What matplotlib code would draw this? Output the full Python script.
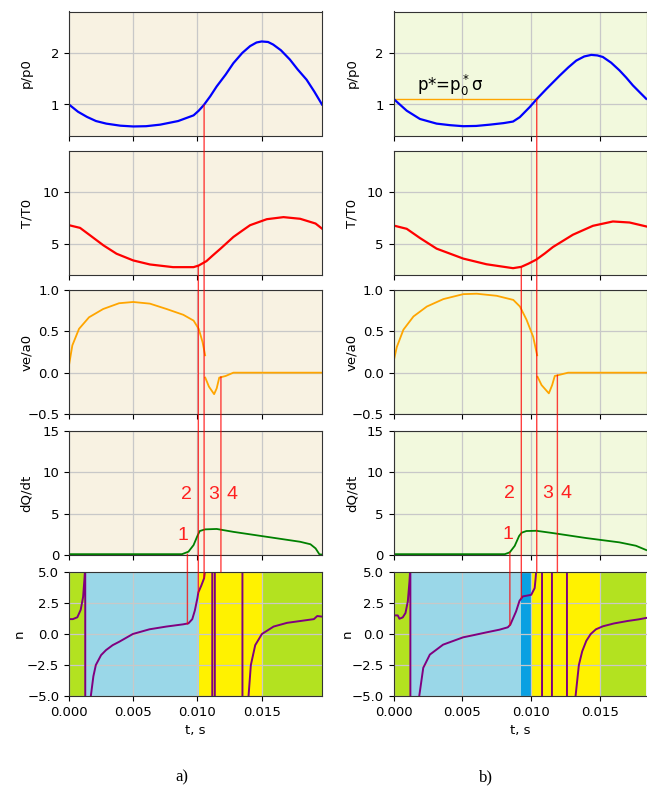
import numpy as np
import matplotlib
matplotlib.use("Agg")
import matplotlib.pyplot as plt
from matplotlib.patches import ConnectionPatch

# ---------------- data, case a) ----------------
t_p_a = [0, 0.0007, 0.0014, 0.0021, 0.0029, 0.0040, 0.0050, 0.0060, 0.0071, 0.0085, 0.0097,
         0.0101, 0.0105, 0.0110, 0.0115, 0.0122, 0.0128, 0.0135, 0.0141, 0.0146, 0.0150,
         0.0155, 0.0159, 0.0165, 0.0172, 0.0178, 0.0185, 0.0191, 0.0197]
p_a = [1.0, 0.86, 0.76, 0.68, 0.63, 0.59, 0.575, 0.58, 0.61, 0.68, 0.79,
       0.88, 0.99, 1.16, 1.35, 1.58, 1.80, 2.00, 2.13, 2.20, 2.22,
       2.21, 2.16, 2.05, 1.87, 1.68, 1.48, 1.25, 1.0]

t_T_a = [0, 0.00086, 0.00164, 0.00268, 0.0037, 0.0050, 0.0063, 0.0081, 0.0097, 0.0101,
         0.0107, 0.0112, 0.0118, 0.0128, 0.0135, 0.0141, 0.0154, 0.0167, 0.0180, 0.0192, 0.0197]
T_a = [6.82, 6.56, 5.84, 4.87, 4.06, 3.41, 3.02, 2.76, 2.76, 2.92,
       3.34, 3.90, 4.55, 5.68, 6.30, 6.82, 7.40, 7.60, 7.44, 6.98, 6.49]

t_ve_a = [0, 0.00026, 0.00078, 0.00156, 0.00266, 0.0039, 0.0050, 0.0063, 0.0076, 0.0089,
          0.0097, 0.0101, 0.0104, 0.0106, np.nan, 0.01061, 0.0109, 0.0113, 0.0115, 0.0117,
          0.0122, 0.0128, 0.0197]
ve_a = [0.09, 0.33, 0.53, 0.67, 0.77, 0.84, 0.855, 0.835, 0.77, 0.70,
        0.63, 0.53, 0.37, 0.21, np.nan, -0.06, -0.17, -0.26, -0.19, -0.06,
        -0.04, 0.0, 0.0]

t_dq_a = [0, 0.0088, 0.0093, 0.0097, 0.00997, 0.01018, 0.0106, 0.0115, 0.0128, 0.0154,
          0.0180, 0.0188, 0.0192, 0.0195, 0.0197]
dq_a = [0.1, 0.1, 0.4, 1.2, 2.2, 2.9, 3.1, 3.15, 2.8, 2.2,
        1.6, 1.3, 0.8, 0.08, 0.05]

t_n_a = [0, 0.0003, 0.00065, 0.00091, 0.0011, 0.0012, 0.00125, 0.00126, 0.00127,
         0.0015, 0.0017, 0.0019, 0.00209, 0.0025, 0.00288, 0.0034, 0.00392, 0.00497,
         0.00627, 0.00758, 0.00889, 0.0093, 0.0096, 0.0098, 0.0100, 0.01007, 0.0103,
         0.01052, 0.0106, 0.0108, 0.01115, 0.01116, 0.01135, 0.01136, 0.0135, 0.01351,
         0.0138, 0.01398, 0.01416, 0.0145, 0.01502, 0.01593, 0.01698, 0.01803,
         0.01907, 0.01933, 0.01972]
n_a = [1.2, 1.2, 1.35, 1.95, 3.0, 4.4, 5.2, 40, -40,
       -12, -5.0, -3.4, -2.5, -1.7, -1.3, -0.9, -0.62, 0.0,
       0.38, 0.6, 0.78, 0.86, 1.2, 1.9, 2.9, 3.35, 3.9,
       4.5, 5.2, 40, 40, -40, -40, 40, 40, -40,
       -12, -5.0, -2.5, -0.9, 0.0, 0.6, 0.9, 1.05,
       1.2, 1.45, 1.4]

zones_a = [0, 0.00135, 0.0101, 0.0150, 0.0197]
zone_kind_a = ["gas", "comp", "burn", "gas"]

mark_t_a = [0.00922, 0.01007, 0.01052, 0.01183]
mark_panel_a = [3, 1, 0, 2]
mark_top_a = [0.1, 2.9, 0.99, -0.05]
mark_n_a = [0.8, 3.35, 4.5, 5.0]
lab_t_a = [0.00888, 0.00914, 0.01127, 0.01271]
lab_v_a = [2.4, 7.3, 7.3, 7.3]

# ---------------- data, case b) ----------------
t_p_b = [0, 0.00096, 0.00192, 0.00313, 0.0041, 0.00506, 0.0060, 0.0070, 0.0080, 0.00868,
         0.00917, 0.00989, 0.01042, 0.0111, 0.01207, 0.0127, 0.01327, 0.01385, 0.01436,
         0.0148, 0.0152, 0.0158, 0.01641, 0.0169, 0.01738, 0.01790, 0.01835]
p_b = [1.11, 0.88, 0.72, 0.63, 0.60, 0.58, 0.585, 0.61, 0.64, 0.67,
       0.755, 0.95, 1.11, 1.30, 1.56, 1.72, 1.85, 1.93, 1.96,
       1.95, 1.92, 1.81, 1.66, 1.52, 1.37, 1.23, 1.11]

t_T_b = [0, 0.00096, 0.00192, 0.00313, 0.00506, 0.00675, 0.00868, 0.00928, 0.00980, 0.01037,
         0.0110, 0.01158, 0.01303, 0.01448, 0.01593, 0.01714, 0.01835]
T_b = [6.79, 6.47, 5.58, 4.55, 3.59, 3.04, 2.66, 2.79, 3.10, 3.49,
       4.10, 4.71, 5.90, 6.76, 7.18, 7.08, 6.70]

t_ve_b = [0, 0.00024, 0.00072, 0.00145, 0.00242, 0.00362, 0.00507, 0.00604, 0.00749, 0.0087,
          0.00918, 0.00966, 0.01014, 0.01043, np.nan, 0.01046, 0.01075, 0.01128, 0.01152,
          0.01171, 0.01196, 0.01268, 0.01835]
ve_b = [0.13, 0.31, 0.52, 0.68, 0.80, 0.89, 0.95, 0.955, 0.93, 0.88,
        0.80, 0.64, 0.435, 0.21, np.nan, -0.05, -0.15, -0.25, -0.15,
        -0.04, -0.03, 0.0, 0.0]

t_dq_b = [0, 0.00808, 0.00844, 0.0088, 0.00912, 0.00931, 0.00965, 0.01037, 0.01158,
          0.01399, 0.0164, 0.0176, 0.01835]
dq_b = [0.1, 0.1, 0.32, 1.1, 2.3, 2.7, 2.9, 2.93, 2.65,
        2.05, 1.53, 1.12, 0.6]

t_n_b = [0, 0.00031, 0.00043, 0.00067, 0.00087, 0.00104, 0.00116, 0.00121, 0.00122, 0.00123,
         0.0016, 0.00187, 0.00216, 0.00264, 0.0036, 0.00505, 0.00578, 0.00674, 0.0077,
         0.0083, 0.00848, 0.0089, 0.00915, 0.00939, 0.0100, 0.01025, 0.01032, 0.01037,
         0.0106, 0.01078, 0.01079, 0.0115, 0.01151, 0.01259, 0.0126, 0.0130, 0.01322,
         0.01346, 0.0137, 0.0140, 0.01432, 0.0147, 0.0152, 0.0160, 0.0170, 0.0178, 0.01837]
n_b = [1.5, 1.5, 1.23, 1.34, 1.69, 2.63, 4.25, 5.2, 40, -40,
       -12, -5.0, -2.73, -1.66, -0.86, -0.27, -0.1, 0.13, 0.35,
       0.54, 0.75, 1.82, 2.68, 3.03, 3.16, 3.7, 4.5, 5.2,
       40, 40, -40, -40, 40, 40, -40, -12, -5.0,
       -2.5, -1.4, -0.55, 0.0, 0.38, 0.62, 0.85, 1.05, 1.18, 1.3]

zones_b = [0, 0.00122, 0.00925, 0.0100, 0.0150, 0.01837]
zone_kind_b = ["gas", "comp", "ign", "burn", "gas"]

mark_t_b = [0.00845, 0.00928, 0.01040, 0.01190]
mark_panel_b = [3, 1, 0, 2]
mark_top_b = [0.3, 2.75, 1.1, -0.03]
mark_n_b = [0.7, 2.85, 5.0, 5.0]
lab_t_b = [0.0083, 0.00844, 0.01122, 0.01255]
lab_v_b = [2.5, 7.5, 7.5, 7.5]
lab_txt = ["1", "2", "3", "4"]

pstar_b = 1.1
pstar_end_b = 0.01040

# ---------------- styles ----------------
zone_col = {"gas": "#b3e220", "comp": "#9ad7e8", "ign": "#0aa0e2", "burn": "#fff200"}
plt.rcParams["font.size"] = 9.5

fig = plt.figure(figsize=(6.47, 7.87), dpi=100)
W, H = 647.0, 787.0
rows_top = [11.5, 151, 290, 431, 572]
row_h = 124


def column(x0, xmax, bg, lab_x, n_lab_x, tp, p, tT, T, tve, ve, tdq, dq, tn, n,
           zones, kinds, mt, mp, mtop, mn, lt, lv):
    axs = []
    for r in range(5):
        ax = fig.add_axes([x0 / W, 1 - (rows_top[r] + row_h) / H, 253 / W, row_h / H])
        ax.set_xlim(0, xmax)
        ax.set_xticks([0, 0.005, 0.010, 0.015])
        ax.grid(True, color="#c8c8c8", lw=0.9)
        ax.set_axisbelow(True)
        for s in ax.spines.values():
            s.set_color("#333333")
        if r < 4:
            ax.set_facecolor(bg)
            ax.tick_params(labelbottom=False)
        axs.append(ax)

    axs[0].plot(tp, p, color="blue", lw=1.6)
    axs[0].set_ylim(0.4, 2.8)
    axs[0].set_yticks([1, 2])
    axs[0].set_ylabel("p/p0")

    axs[1].plot(tT, T, color="red", lw=1.6)
    axs[1].set_ylim(2, 14)
    axs[1].set_yticks([5, 10])
    axs[1].set_ylabel("T/T0")

    axs[2].plot(tve, ve, color="orange", lw=1.3)
    axs[2].set_ylim(-0.5, 1.0)
    axs[2].set_yticks([-0.5, 0.0, 0.5, 1.0])
    axs[2].set_ylabel("ve/a0")

    axs[3].plot(tdq, dq, color="green", lw=1.3)
    axs[3].set_ylim(0, 15)
    axs[3].set_yticks([0, 5, 10, 15])
    axs[3].set_ylabel("dQ/dt")
    for k in range(4):
        axs[3].text(lt[k], lv[k], lab_txt[k], color="#ff2020", fontsize=14,
                    family="Liberation Sans", ha="center", va="center")

    for k in range(len(kinds)):
        axs[4].axvspan(zones[k], zones[k + 1], color=zone_col[kinds[k]], lw=0, zorder=0)
    axs[4].plot(tn, n, color="purple", lw=1.4)
    axs[4].set_ylim(-5, 5)
    axs[4].set_yticks([-5, -2.5, 0, 2.5, 5])
    axs[4].set_ylabel("n")
    axs[4].set_xlabel("t, s")
    axs[4].set_xticklabels(["0.000", "0.005", "0.010", "0.015"])

    for r in range(4):
        axs[r].yaxis.set_label_coords(lab_x, 0.5)
    axs[4].yaxis.set_label_coords(n_lab_x, 0.5)

    for k in range(4):
        con = ConnectionPatch(xyA=(mt[k], mtop[k]), coordsA="data", axesA=axs[mp[k]],
                              xyB=(mt[k], mn[k]), coordsB="data", axesB=axs[4],
                              color="red", lw=1.0, alpha=0.75)
        fig.add_artist(con)
    return axs


axa = column(69, 0.0197, "#f8f2e2", -0.142, -0.17, t_p_a, p_a, t_T_a, T_a, t_ve_a, ve_a,
             t_dq_a, dq_a, t_n_a, n_a, zones_a, zone_kind_a, mark_t_a, mark_panel_a,
             mark_top_a, mark_n_a, lab_t_a, lab_v_a)
axb = column(393.5, 0.01837, "#f2f9dd", -0.138, -0.158, t_p_b, p_b, t_T_b, T_b, t_ve_b, ve_b,
             t_dq_b, dq_b, t_n_b, n_b, zones_b, zone_kind_b, mark_t_b, mark_panel_b,
             mark_top_b, mark_n_b, lab_t_b, lab_v_b)

axb[0].plot([0, pstar_end_b], [pstar_b, pstar_b], color="orange", lw=1.0, zorder=1)
axb[0].text(0.0017, 1.27, r"p*=p$_0^*$σ", fontsize=12)

fig.text(182 / W, 1 - 777 / H, "a)", family="Liberation Serif", fontsize=12,
         ha="center", va="center")
fig.text(486 / W, 1 - 777 / H, "b)", family="Liberation Serif", fontsize=12,
         ha="center", va="center")

fig.savefig("out.png", dpi=100)
